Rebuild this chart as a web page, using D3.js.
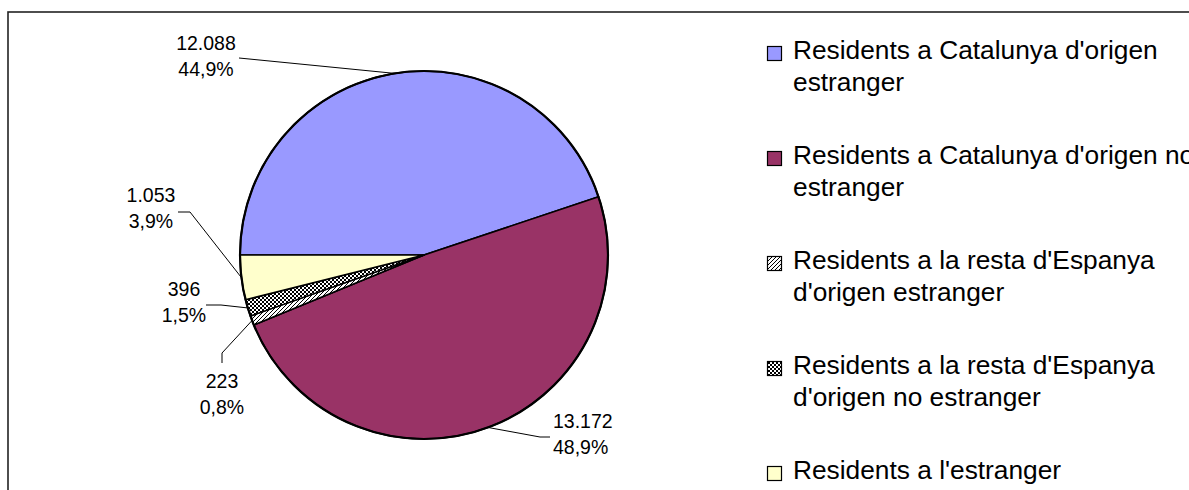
<!DOCTYPE html>
<html>
<head>
<meta charset="utf-8">
<script src="https://cdn.jsdelivr.net/npm/d3@7"></script>
<style>
  html, body { margin: 0; padding: 0; background: #fff; }
  svg { display: block; font-family: "Liberation Sans", Arial, sans-serif; }
</style>
</head>
<body>
<svg id="chart" width="1189" height="490"></svg>
<script>
// data
const categories = [
  "Residents a Catalunya d'origen estranger",
  "Residents a Catalunya d'origen no estranger",
  "Residents a la resta d'Espanya d'origen estranger",
  "Residents a la resta d'Espanya d'origen no estranger",
  "Residents a l'estranger"
];
const values = [12088, 13172, 223, 396, 1053];
// how the legend breaks each name
const legendLines = [
  ["Residents a Catalunya d'origen", "estranger"],
  ["Residents a Catalunya d'origen no", "estranger"],
  ["Residents a la resta d'Espanya", "d'origen estranger"],
  ["Residents a la resta d'Espanya", "d'origen no estranger"],
  ["Residents a l'estranger"]
];
const fills = ["#9999ff", "#993366", "url(#hatch)", "url(#checker)", "#ffffcc"];

// label placement (text anchor + elbow points of leader lines)
const labelPos = [
  {x: 206, y: 50, anchor: "middle", elbow: [[239, 58]]},
  {x: 553, y: 428, anchor: "start", elbow: [[550, 437], [540, 437]]},
  {x: 222, y: 388, anchor: "middle", elbow: [[222, 363], [222, 353]]},
  {x: 184, y: 296, anchor: "middle", elbow: [[206, 305], [221, 305]]},
  {x: 151, y: 202, anchor: "middle", elbow: [[178, 212], [190, 212]]}
];

const svg = d3.select("#chart");
const cx = 424, cy = 255, r = 184;

const loc = d3.formatLocale({decimal: ",", thousands: ".", grouping: [3], currency: ["", "€"]});
const fmtNum = loc.format(",d");
const fmtPct = loc.format(".1%");
const total = d3.sum(values);

// patterns
const defs = svg.append("defs");
const hatch = defs.append("pattern").attr("id", "hatch")
  .attr("patternUnits", "userSpaceOnUse").attr("width", 4).attr("height", 4);
hatch.append("rect").attr("width", 4).attr("height", 4).attr("fill", "#fff");
hatch.append("path").attr("d", "M-1,1 l2,-2 M0,4 l4,-4 M3,5 l2,-2")
  .attr("stroke", "#000").attr("stroke-width", 1);
const checker = defs.append("pattern").attr("id", "checker")
  .attr("patternUnits", "userSpaceOnUse").attr("width", 4).attr("height", 4);
checker.append("rect").attr("width", 4).attr("height", 4).attr("fill", "#fff");
checker.append("rect").attr("width", 2).attr("height", 2).attr("fill", "#000");
checker.append("rect").attr("x", 2).attr("y", 2).attr("width", 2).attr("height", 2).attr("fill", "#000");

// chart frame (cut off on the right and bottom)
svg.append("rect")
  .attr("x", 8).attr("y", 12).attr("width", 1300).attr("height", 600)
  .attr("fill", "none").attr("stroke", "#222").attr("stroke-width", 1.6);

const pie = d3.pie().sort(null)
  .startAngle(-Math.PI / 2).endAngle(Math.PI * 1.5);
const arcs = pie(values);
const arc = d3.arc().innerRadius(0).outerRadius(r);

const g = svg.append("g").attr("transform", `translate(${cx},${cy})`);
g.selectAll("path.slice")
  .data(arcs)
  .enter()
  .append("path")
  .attr("class", "slice")
  .attr("d", arc)
  .attr("fill", (d, i) => fills[i])
  .attr("stroke", "#000")
  .attr("stroke-width", 1.6)
  .attr("stroke-linejoin", "round");

g.append("circle").attr("r", r).attr("fill", "none")
  .attr("stroke", "#000").attr("stroke-width", 2.2);

// leader lines and labels
arcs.forEach(function(d, i) {
  let lp = labelPos[i];
  let mid = (d.startAngle + d.endAngle) / 2;
  let px = cx + r * Math.sin(mid);
  let py = cy - r * Math.cos(mid);
  let pts = lp.elbow.concat([[px, py]]);
  svg.append("path")
    .attr("d", d3.line()(pts))
    .attr("fill", "none")
    .attr("stroke", "#000")
    .attr("stroke-width", 1);

  let t = svg.append("text")
    .attr("x", lp.x).attr("y", lp.y)
    .attr("text-anchor", lp.anchor)
    .attr("font-size", 19.5)
    .attr("fill", "#000");
  t.append("tspan").attr("x", lp.x).text(fmtNum(d.data));
  t.append("tspan").attr("x", lp.x).attr("dy", 26).text(fmtPct(d.data / total));
});

// legend
const legend = svg.append("g").attr("class", "legend");
const item = legend.selectAll("g")
  .data(categories)
  .enter()
  .append("g")
  .attr("transform", (d, i) => `translate(0,${59 + i * 105})`);

item.append("rect")
  .attr("x", 767.5).attr("y", -12.5)
  .attr("width", 14).attr("height", 14)
  .attr("fill", (d, i) => fills[i])
  .attr("stroke", "#000").attr("stroke-width", 1.2);

item.append("text")
  .attr("font-size", 26.3)
  .attr("fill", "#000")
  .each(function(d, i) {
    let sel = d3.select(this);
    legendLines[i].forEach(function(line, j) {
      sel.append("tspan").attr("x", 793).attr("y", j * 32).text(line);
    });
  });
</script>
</body>
</html>
